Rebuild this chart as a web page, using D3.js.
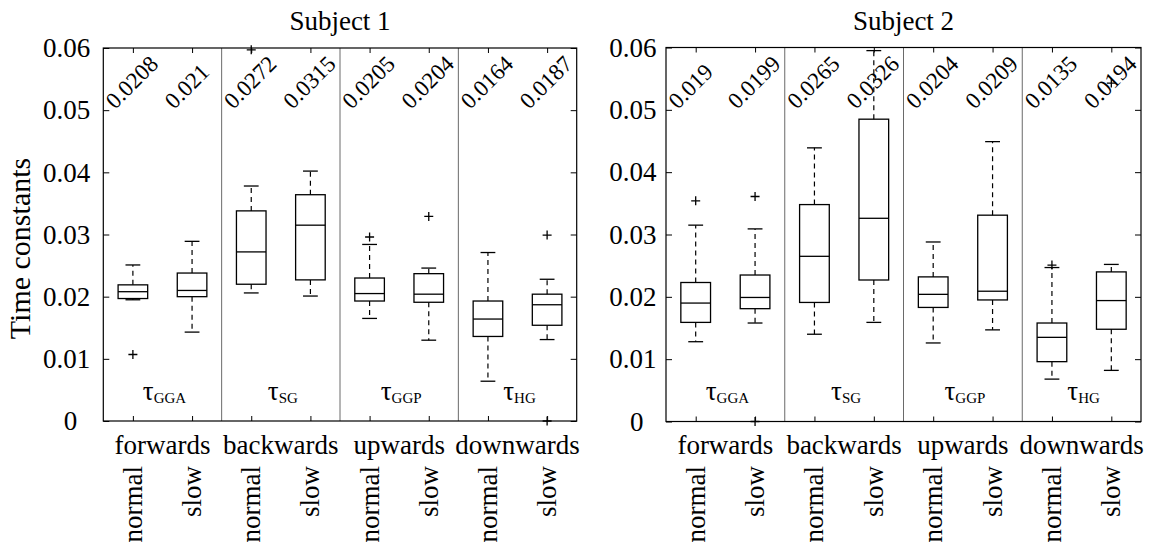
<!DOCTYPE html>
<html>
<head>
<meta charset="utf-8">
<script src="https://cdn.jsdelivr.net/npm/d3@7/dist/d3.min.js"></script>
<style>
  html, body { margin: 0; padding: 0; background: #fff; }
  svg { display: block; }
  svg text { font-family: "Liberation Serif", "Times New Roman", Times, serif; fill: #000; }
</style>
</head>
<body>
<svg id="chart" width="1151" height="554"></svg>
<script>
// ---- data ----
const directions = ["forwards", "backwards", "upwards", "downwards"];
const speeds = ["normal", "slow"];
const tauSubs = ["GGA", "SG", "GGP", "HG"];
const yTicks = [0, 0.01, 0.02, 0.03, 0.04, 0.05, 0.06];
const yTickLabels = ["0", "0.01", "0.02", "0.03", "0.04", "0.05", "0.06"];
const subjects = ["Subject 1", "Subject 2"];

// Subject 1 (order: fwd normal, fwd slow, bwd normal, bwd slow, up normal, up slow, down normal, down slow)
const s1Median = [0.0208, 0.021, 0.0272, 0.0315, 0.0205, 0.0204, 0.0164, 0.0187];
const s1Q1 = [0.0197, 0.0200, 0.0220, 0.0227, 0.0193, 0.0191, 0.0136, 0.0154];
const s1Q3 = [0.0219, 0.0238, 0.0338, 0.0364, 0.0230, 0.0237, 0.0193, 0.0204];
const s1Lo = [0.0195, 0.0143, 0.0206, 0.0201, 0.0165, 0.0130, 0.0064, 0.0131];
const s1Hi = [0.0251, 0.0289, 0.0378, 0.0402, 0.0284, 0.0246, 0.0271, 0.0228];
const s1Out = [[0.0107], [], [0.0597], [], [0.0296], [0.0329], [], [0.0299, 0.0]];

// Subject 2
const s2Median = [0.019, 0.0199, 0.0265, 0.0326, 0.0204, 0.0209, 0.0135, 0.0194];
const s2Q1 = [0.0159, 0.0181, 0.0191, 0.0227, 0.0183, 0.0195, 0.0096, 0.0148];
const s2Q3 = [0.0223, 0.0235, 0.0348, 0.0485, 0.0232, 0.0331, 0.0158, 0.0240];
const s2Lo = [0.0128, 0.0158, 0.0140, 0.0159, 0.0126, 0.0147, 0.0068, 0.0082];
const s2Hi = [0.0315, 0.0309, 0.0439, 0.0595, 0.0288, 0.0449, 0.0247, 0.0252];
const s2Out = [[0.0354], [0.0361, 0.0], [], [], [], [], [0.0251], [0.0543]];

// ---- layout ----
const svg = d3.select("#chart");
const FONT = "Liberation Serif, Times New Roman, serif";
const panels = [
  { title: subjects[0], x0: 103.3, x1: 576.7, top: 48, bottom: 421, labGap: 13,
    med: s1Median, q1: s1Q1, q3: s1Q3, lo: s1Lo, hi: s1Hi, out: s1Out, ylabel: true },
  { title: subjects[1], x0: 666, x1: 1141, top: 47.5, bottom: 421.5, labGap: 9.5,
    med: s2Median, q1: s2Q1, q3: s2Q3, lo: s2Lo, hi: s2Hi, out: s2Out, ylabel: false }
];

const positions = d3.range(1, 9);

panels.forEach(p => {
  const x = d3.scaleLinear().domain([0.5, 8.5]).range([p.x0, p.x1]);
  const y = d3.scaleLinear().domain([0, 0.06]).range([p.bottom, p.top]);
  const g = svg.append("g");
  const unit = x(2) - x(1);

  // separators
  [2.5, 4.5, 6.5].forEach(s => {
    g.append("line").attr("x1", x(s)).attr("x2", x(s))
      .attr("y1", p.top).attr("y2", p.bottom)
      .attr("stroke", "#6a6a6a").attr("stroke-width", 1);
  });

  const clean = a => { a.select(".domain").remove(); a.selectAll("line").attr("stroke", "#000"); };
  g.append("g").attr("transform", `translate(${p.x0},0)`)
    .call(d3.axisRight(y).tickValues(yTicks).tickSize(6).tickFormat("")).call(clean);
  g.append("g").attr("transform", `translate(${p.x1},0)`)
    .call(d3.axisLeft(y).tickValues(yTicks).tickSize(6).tickFormat("")).call(clean);
  g.append("g").attr("transform", `translate(0,${p.bottom})`)
    .call(d3.axisTop(x).tickValues(positions).tickSize(5).tickFormat("")).call(clean);
  g.append("g").attr("transform", `translate(0,${p.top})`)
    .call(d3.axisBottom(x).tickValues(positions).tickSize(5).tickFormat("")).call(clean);

  // frame
  g.append("rect").attr("x", p.x0).attr("y", p.top)
    .attr("width", p.x1 - p.x0).attr("height", p.bottom - p.top)
    .attr("fill", "none").attr("stroke", "#000").attr("stroke-width", 1.2);

  // y tick labels
  g.selectAll(".ylab").data(yTicks).enter().append("text")
    .attr("font-family", FONT)
    .attr("x", (d, i) => p.x0 - p.labGap - (i === 0 ? 13 : 0))
    .attr("y", d => y(d)).attr("dy", "0.34em")
    .attr("text-anchor", "end").attr("font-size", 27)
    .text((d, i) => yTickLabels[i]);

  // boxes
  positions.forEach((pos, i) => {
    const cx = x(pos);
    const bw = unit * 0.5, cw = unit * 0.25;
    g.append("line").attr("x1", cx).attr("x2", cx)
      .attr("y1", y(p.q3[i])).attr("y2", y(p.hi[i]))
      .attr("stroke", "#000").attr("stroke-width", 1.2).attr("stroke-dasharray", "5,4");
    g.append("line").attr("x1", cx).attr("x2", cx)
      .attr("y1", y(p.q1[i])).attr("y2", y(p.lo[i]))
      .attr("stroke", "#000").attr("stroke-width", 1.2).attr("stroke-dasharray", "5,4");
    [p.hi[i], p.lo[i]].forEach(v => {
      g.append("line").attr("x1", cx - cw / 2).attr("x2", cx + cw / 2)
        .attr("y1", y(v)).attr("y2", y(v))
        .attr("stroke", "#000").attr("stroke-width", 1.3);
    });
    g.append("rect").attr("x", cx - bw / 2).attr("y", y(p.q3[i]))
      .attr("width", bw).attr("height", y(p.q1[i]) - y(p.q3[i]))
      .attr("fill", "none").attr("stroke", "#000").attr("stroke-width", 1.3);
    g.append("line").attr("x1", cx - bw / 2).attr("x2", cx + bw / 2)
      .attr("y1", y(p.med[i])).attr("y2", y(p.med[i]))
      .attr("stroke", "#000").attr("stroke-width", 1.3);
    p.out[i].forEach(v => {
      const oy = y(v);
      g.append("path")
        .attr("d", `M${cx - 4.5},${oy}H${cx + 4.5}M${cx},${oy - 4.5}V${oy + 4.5}`)
        .attr("stroke", "#000").attr("stroke-width", 1.3).attr("fill", "none");
    });
    // median label rotated
    g.append("text").attr("transform", `translate(${cx - 18},${110}) rotate(-45)`)
      .attr("font-family", FONT)
      .attr("font-size", 23).attr("text-anchor", "start")
      .text(String(p.med[i]));
    // speed label rotated -90
    g.append("text").attr("transform", `translate(${cx + 9},${466}) rotate(-90)`)
      .attr("font-family", FONT)
      .attr("font-size", 27).attr("text-anchor", "end")
      .text(speeds[i % 2]);
  });

  directions.forEach((dname, k) => {
    const mx = x(2 * k + 1.5);
    g.append("text").attr("x", mx).attr("y", 454).attr("font-family", FONT)
      .attr("text-anchor", "middle").attr("font-size", 27).text(dname);
    const t = g.append("text").attr("x", mx + 2).attr("y", 400).attr("font-family", FONT)
      .attr("text-anchor", "middle").attr("font-size", 27);
    t.append("tspan").text("τ");
    t.append("tspan").attr("font-size", 15).attr("dy", 3).text(tauSubs[k]);
  });

  g.append("text").attr("x", (p.x0 + p.x1) / 2).attr("y", 30).attr("font-family", FONT)
    .attr("text-anchor", "middle").attr("font-size", 27).text(p.title);

  if (p.ylabel) {
    g.append("text").attr("transform", `translate(30,${(p.top + p.bottom) / 2 + 14}) rotate(-90)`)
      .attr("font-family", FONT)
      .attr("text-anchor", "middle").attr("font-size", 30).text("Time constants");
  }
});
</script>
</body>
</html>
